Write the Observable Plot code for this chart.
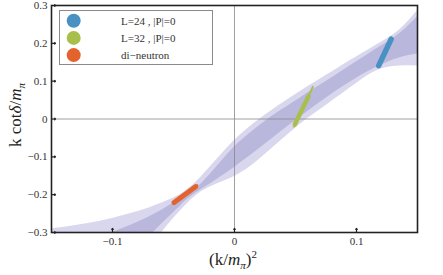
<!DOCTYPE html>
<html>
<head>
<meta charset="utf-8">
<script src="https://cdn.jsdelivr.net/npm/d3@7"></script>
<script src="https://cdn.jsdelivr.net/npm/@observablehq/plot@0.6"></script>
<style>
  html, body { margin: 0; padding: 0; background: #fff; }
  #wrap { position: relative; width: 443px; height: 275px; }
  #wrap svg { display: block; }
  #overlay { position: absolute; left: 0; top: 0; pointer-events: none; }
</style>
</head>
<body>
<div id="wrap"></div>
<script>
// ---- data ----
const xTicks = [-0.1, 0, 0.1];
const yTicks = [-0.3, -0.2, -0.1, 0, 0.1, 0.2, 0.3];

// outer (light) band
const outerX  = [-0.15, -0.135, -0.12, -0.1, -0.085, -0.07, -0.06, -0.05, -0.04, -0.03, -0.02, -0.01, 0, 0.01, 0.02, 0.03, 0.046, 0.06, 0.075, 0.09, 0.1, 0.11, 0.12, 0.13, 0.14, 0.15];
const outerHi = [-0.290, -0.284, -0.276, -0.263, -0.250, -0.235, -0.223, -0.209, -0.190, -0.162, -0.127, -0.091, -0.057, -0.028, -0.002, 0.021, 0.056, 0.085, 0.115, 0.145, 0.164, 0.183, 0.202, 0.222, 0.250, 0.286];
const outerLo = [-0.76, -0.68, -0.60, -0.49, -0.42, -0.345, -0.302, -0.263, -0.228, -0.199, -0.180, -0.166, -0.152, -0.133, -0.108, -0.080, -0.035, 0.001, 0.036, 0.071, 0.094, 0.116, 0.132, 0.139, 0.141, 0.140];
// inner (dark) band
const innerX  = [-0.15, -0.125, -0.1, -0.085, -0.07, -0.06, -0.05, -0.04, -0.03, -0.02, -0.01, 0, 0.01, 0.02, 0.03, 0.046, 0.06, 0.075, 0.09, 0.1, 0.11, 0.12, 0.13, 0.14, 0.15];
const innerHi = [-0.36, -0.33, -0.300, -0.281, -0.259, -0.242, -0.222, -0.203, -0.180, -0.147, -0.110, -0.074, -0.045, -0.019, 0.005, 0.039, 0.069, 0.099, 0.130, 0.151, 0.172, 0.192, 0.213, 0.238, 0.270];
const innerLo = [-0.75, -0.60, -0.47, -0.400, -0.313, -0.279, -0.248, -0.216, -0.192, -0.172, -0.150, -0.128, -0.104, -0.079, -0.054, -0.014, 0.020, 0.055, 0.088, 0.108, 0.126, 0.142, 0.156, 0.166, 0.172];

const seriesNames = ["L=24 , |P|=0", "L=32 , |P|=0", "di\u2212neutron"];
const seriesColors = ["#4a91c3", "#a8c04b", "#e4632d"];
// main (thick) segment of each correlated-error ellipse
const segX1 = [0.1182, 0.0495, -0.0495];
const segY1 = [0.141, -0.014, -0.221];
const segX2 = [0.1284, 0.0607, -0.0320];
const segY2 = [0.211, 0.060, -0.179];
const segW  = [5.5, 4.5, 5];
// thin tails
const tailX1 = [0.1178, 0.0488, -0.0505];
const tailY1 = [0.138, -0.020, -0.224];
const tailX2 = [0.1288, 0.0642, -0.0305];
const tailY2 = [0.215, 0.085, -0.175];

// ---- build ----
const outer = outerX.map((x, i) => ({x, hi: outerHi[i], lo: outerLo[i]}));
const inner = innerX.map((x, i) => ({x, hi: innerHi[i], lo: innerLo[i]}));
const segs = seriesNames.map((name, i) => ({name, color: seriesColors[i], w: segW[i],
  x1: segX1[i], y1: segY1[i], x2: segX2[i], y2: segY2[i],
  tx1: tailX1[i], ty1: tailY1[i], tx2: tailX2[i], ty2: tailY2[i]}));

const fmt = d => d === 0 ? "0" : d3.format(".1f")(d).replace("-", "\u2212");
const serif = "'Liberation Serif', 'Times New Roman', Times, serif";

const chart = Plot.plot({
  width: 443,
  height: 275,
  marginLeft: 51,
  marginRight: 26,
  marginTop: 5,
  marginBottom: 43,
  style: {fontFamily: serif, background: "#fff", color: "#333"},
  x: {domain: [-0.15, 0.15]},
  y: {domain: [-0.3, 0.3]},
  marks: [
    Plot.areaY(outer, {x: "x", y1: "lo", y2: "hi", fill: "#d8d7ed", curve: "monotone-x", clip: true}),
    Plot.areaY(inner, {x: "x", y1: "lo", y2: "hi", fill: "#b9b7db", curve: "monotone-x", clip: true}),
    Plot.ruleX([0], {stroke: "#888", strokeWidth: 0.8}),
    Plot.ruleY([0], {stroke: "#888", strokeWidth: 0.8}),
    Plot.link(segs, {x1: "tx1", y1: "ty1", x2: "tx2", y2: "ty2", stroke: "color", strokeWidth: 2, strokeLinecap: "round", clip: true}),
    ...segs.map(s => Plot.link([s], {x1: "x1", y1: "y1", x2: "x2", y2: "y2", stroke: "color", strokeWidth: s.w, strokeLinecap: "round", clip: true})),
    Plot.frame({stroke: "#222", strokeWidth: 1.6}),
    Plot.vector(yTicks, {y: d => d, frameAnchor: "left", length: 4, rotate: 90, anchor: "start", stroke: "#222", strokeWidth: 1.2}),
    Plot.vector(xTicks, {x: d => d, frameAnchor: "bottom", length: 4, rotate: 0, anchor: "start", stroke: "#222", strokeWidth: 1.2}),
    Plot.axisY(yTicks, {anchor: "left", tickSize: 0, tickPadding: 4, tickFormat: fmt, fontSize: 11, fontFamily: serif, label: null, fill: "#333"}),
    Plot.axisX(xTicks, {anchor: "bottom", tickSize: 0, tickPadding: 5, tickFormat: fmt, fontSize: 11, fontFamily: serif, label: null, fill: "#333"})
  ]
});

const wrap = document.getElementById("wrap");
wrap.appendChild(chart);

// overlay: axis titles and legend
const NS = "http://www.w3.org/2000/svg";
const ov = d3.select(wrap).append(() => document.createElementNS(NS, "svg"))
  .attr("id", "overlay").attr("width", 443).attr("height", 275)
  .attr("font-family", serif);

// x title
const xt = ov.append("text").attr("x", 233).attr("y", 265).attr("text-anchor", "middle")
  .attr("font-size", 17).attr("fill", "#222");
xt.append("tspan").text("(k/");
xt.append("tspan").attr("font-style", "italic").text("m");
xt.append("tspan").attr("font-style", "italic").attr("font-size", 11).attr("dy", 4).text("\u03c0");
xt.append("tspan").attr("dy", -4).text(")");
xt.append("tspan").attr("font-size", 11).attr("dy", -7).text("2");

// y title
const yt = ov.append("text").attr("transform", "translate(21,115) rotate(-90)").attr("text-anchor", "middle")
  .attr("font-size", 17).attr("fill", "#222");
yt.append("tspan").text("k cot");
yt.append("tspan").attr("font-style", "italic").text("\u03b4");
yt.append("tspan").text("/");
yt.append("tspan").attr("font-style", "italic").text("m");
yt.append("tspan").attr("font-style", "italic").attr("font-size", 11).attr("dy", 4).text("\u03c0");

// legend
const lg = ov.append("g");
lg.append("rect").attr("x", 59.5).attr("y", 10.5).attr("width", 153).attr("height", 54)
  .attr("fill", "#fff").attr("stroke", "#8a8a8a").attr("stroke-width", 1);
seriesNames.forEach((name, i) => {
  const cy = 20.7 + i * 17.2;
  lg.append("circle").attr("cx", 73.7).attr("cy", cy).attr("r", 7).attr("fill", seriesColors[i]);
  lg.append("text").attr("x", 121).attr("y", cy + 3.8).attr("font-size", 11).attr("fill", "#333").text(name);
});
</script>
</body>
</html>
